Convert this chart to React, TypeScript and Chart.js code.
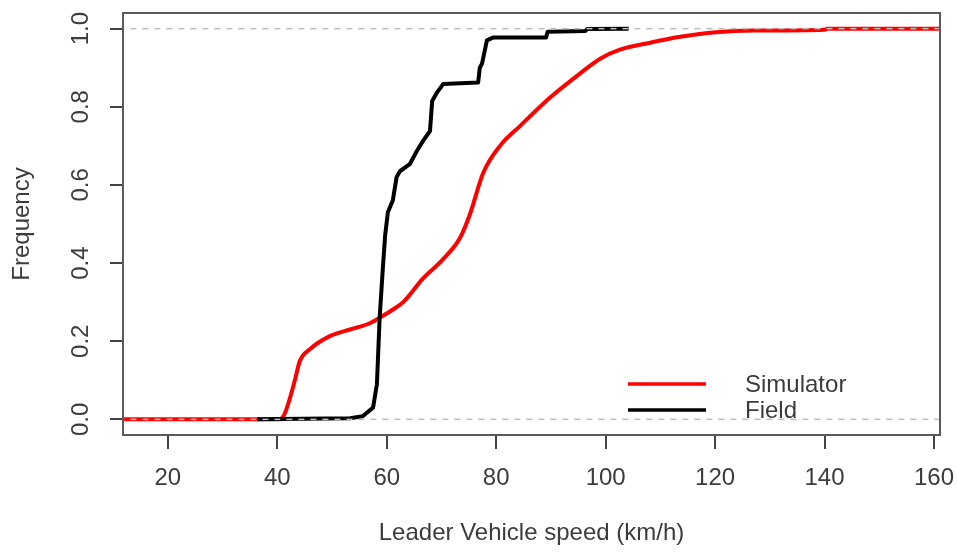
import React, { useEffect, useRef } from "react";
import { Chart, registerables } from "chart.js";

Chart.register(...registerables);

const simulatorX = [0, 40.3, 41.2, 42.3, 43.2, 44.1, 46, 49.6, 53.3, 56.9, 58.7, 61, 63, 66.6, 70.3, 73.4, 75.2, 77.6, 80.7, 84.3, 89.8, 95.3, 99, 102.6, 108.1, 113.6, 119.6, 127, 140, 140.5, 170];
const simulatorY = [0, 0, 0.01, 0.054, 0.1, 0.149, 0.18, 0.213, 0.23, 0.246, 0.26, 0.28, 0.3, 0.36, 0.41, 0.465, 0.525, 0.63, 0.7, 0.75, 0.823, 0.885, 0.923, 0.946, 0.964, 0.979, 0.99, 0.995, 0.997, 1, 1];

const fieldX = [36.3, 53.3, 55.6, 57.5, 58.2, 58.7, 59.3, 59.7, 60.2, 61.1, 61.8, 62.4, 64.2, 65.5, 66.6, 67.9, 68.3, 69.2, 70.3, 76.7, 77.0, 77.4, 78.3, 79.4, 89.1, 89.4, 96.3, 96.6, 104.2];
const fieldY = [0, 0.003, 0.008, 0.03, 0.09, 0.26, 0.39, 0.47, 0.53, 0.56, 0.62, 0.635, 0.653, 0.687, 0.712, 0.738, 0.815, 0.837, 0.858, 0.862, 0.9, 0.91, 0.97, 0.977, 0.977, 0.992, 0.994, 0.999, 1.0];

const refLevels = [0, 1];
const xTicks = [20, 40, 60, 80, 100, 120, 140, 160];
const yTicks = [0, 0.2, 0.4, 0.6, 0.8, 1.0];
const seriesNames = ["Simulator", "Field"];
const seriesColors = ["#ff0000", "#000000"];

const FONT = "'Liberation Sans', Arial, sans-serif";
const TEXT = "#3c3c3c";
const FS = 24;

const decorPlugin = {
  id: "decor",
  afterDraw(chart: any) {
    const { ctx, chartArea, scales } = chart;
    ctx.save();
    ctx.strokeStyle = "#5a5a5a";
    ctx.lineWidth = 2;
    ctx.strokeRect(chartArea.left, chartArea.top, chartArea.right - chartArea.left, chartArea.bottom - chartArea.top);
    ctx.fillStyle = TEXT;
    ctx.font = `${FS}px ${FONT}`;
    ctx.textAlign = "center";
    ctx.textBaseline = "middle";
    yTicks.forEach((v) => {
      const y = scales.y.getPixelForValue(v);
      ctx.save();
      ctx.translate(81, y);
      ctx.rotate(-Math.PI / 2);
      ctx.fillText(v.toFixed(1), 0, 0);
      ctx.restore();
    });
    const lx1 = 628, lx2 = 706;
    const rows = [384, 410];
    ctx.textAlign = "left";
    seriesNames.forEach((name, i) => {
      ctx.strokeStyle = seriesColors[i];
      ctx.lineWidth = 3.5;
      ctx.beginPath();
      ctx.moveTo(lx1, rows[i]);
      ctx.lineTo(lx2, rows[i]);
      ctx.stroke();
      ctx.fillStyle = TEXT;
      ctx.fillText(name, 745, rows[i] + 1);
    });
    ctx.restore();
  },
};

export default function App() {
  const ref = useRef<HTMLCanvasElement | null>(null);
  useEffect(() => {
    document.body.style.margin = "0";
    const canvas = ref.current!;
    const datasets: any[] = [
      {
        label: seriesNames[0],
        data: simulatorX.map((x, i) => ({ x, y: simulatorY[i] })),
        borderColor: seriesColors[0],
        borderWidth: 4,
        pointRadius: 0,
        cubicInterpolationMode: "monotone",
        borderJoinStyle: "round",
        order: 2,
      },
      {
        label: seriesNames[1],
        data: fieldX.map((x, i) => ({ x, y: fieldY[i] })),
        borderColor: seriesColors[1],
        borderWidth: 4,
        pointRadius: 0,
        tension: 0,
        borderJoinStyle: "round",
        order: 1,
      },
      ...refLevels.map((lv) => ({
        label: "ref" + lv,
        data: [
          { x: 0, y: lv },
          { x: 170, y: lv },
        ],
        borderColor: "#bdbdbd",
        borderWidth: 1.5,
        borderDash: [6, 6],
        pointRadius: 0,
        order: 0,
        clip: 0,
      })),
    ];
    const chart = new Chart(canvas, {
      type: "line",
      data: { datasets },
      options: {
        animation: false,
        responsive: false,
        devicePixelRatio: 1,
        layout: { padding: { left: 0, right: 17, top: 13, bottom: 0 } },
        plugins: { legend: { display: false }, tooltip: { enabled: false } },
        scales: {
          x: {
            type: "linear",
            min: 11.8,
            max: 161.1,
            afterBuildTicks: (s: any) => {
              s.ticks = xTicks.map((v) => ({ value: v }));
            },
            afterFit: (s: any) => {
              s.height = 120;
              s.paddingLeft = 0;
              s.paddingRight = 0;
            },
            grid: { drawOnChartArea: false, color: "#444", lineWidth: 2, tickLength: 14 },
            border: { display: false },
            ticks: {
              color: TEXT,
              font: { family: FONT, size: FS },
              padding: 15,
              maxRotation: 0,
              autoSkip: false,
            },
            title: {
              display: true,
              text: "Leader Vehicle speed (km/h)",
              color: TEXT,
              font: { family: FONT, size: FS, lineHeight: 1.2 },
              padding: { top: 0, bottom: 7 },
            },
          },
          y: {
            type: "linear",
            min: -0.04,
            max: 1.04,
            afterBuildTicks: (s: any) => {
              s.ticks = yTicks.map((v) => ({ value: v }));
            },
            afterFit: (s: any) => {
              s.width = 123;
              s.paddingTop = 0;
              s.paddingBottom = 0;
            },
            grid: { drawOnChartArea: false, color: "#444", lineWidth: 2, tickLength: 13 },
            border: { display: false },
            ticks: { display: false },
            title: {
              display: true,
              text: "Frequency",
              color: TEXT,
              font: { family: FONT, size: FS, lineHeight: 1.2 },
              padding: { top: 8, bottom: 0 },
            },
          },
        },
      },
      plugins: [decorPlugin],
    });
    return () => chart.destroy();
  }, []);
  return <canvas ref={ref} width={957} height={555} style={{ display: "block" }} />;
}
